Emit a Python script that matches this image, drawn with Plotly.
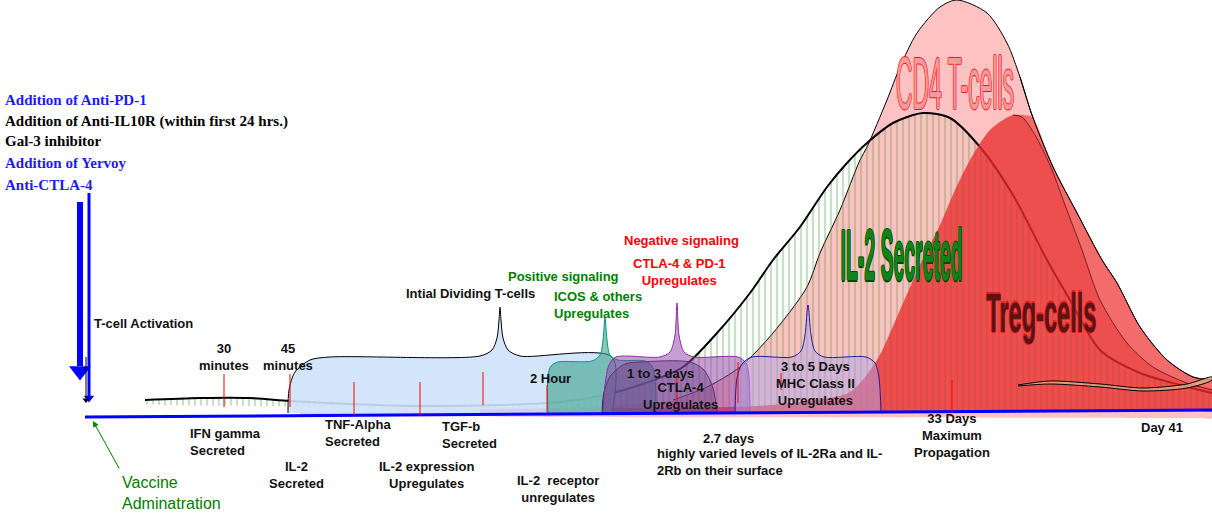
import plotly.graph_objects as go

# --- curves (x, y in picture pixels, y grows downward) ---
cd4_x = [300, 400, 500, 600, 673, 707, 740, 773, 807, 820, 840, 860, 867, 887, 900, 917, 940, 957,
         987, 1007, 1020, 1032, 1053, 1077, 1102, 1117, 1140, 1167, 1193, 1212]
cd4_y = [412, 412, 410, 406, 400, 387, 367, 333, 287, 253, 210, 160, 147, 100, 67, 33, 7, 0,
         13, 43, 77, 115, 167, 213, 260, 283, 327, 360, 377, 380]

il2_x = [145, 200, 250, 290, 350, 420, 500, 560, 600, 640, 683, 717, 750, 773, 800, 827, 847, 867,
         893, 923, 950, 980, 1013, 1047, 1070, 1100, 1140, 1180, 1212]
il2_y = [400, 398, 398, 401, 404, 406, 405, 402, 396, 385, 367, 333, 293, 260, 227, 187, 163, 143,
         123, 113, 118, 147, 195, 260, 300, 350, 373, 385, 393]

treg_x = [480, 560, 650, 757, 807, 850, 877, 900, 920, 940, 955, 970, 990, 1013, 1022, 1035, 1050,
          1065, 1082, 1100, 1127, 1153, 1187, 1212]
treg_y = [409, 408, 408, 406, 401, 392, 360, 310, 265, 225, 190, 160, 130, 115, 117, 135, 165,
          205, 250, 300, 343, 367, 383, 390]

band_x = [1013, 1024, 1032, 1053, 1077, 1102, 1117, 1140, 1167, 1193, 1212,
          1212, 1187, 1153, 1127, 1100, 1082, 1065, 1050, 1035, 1022]
band_y = [115, 115, 117, 167, 213, 260, 283, 327, 360, 377, 380,
          390, 383, 367, 343, 300, 250, 205, 165, 135, 117]

wisp_x = [1018, 1050, 1100, 1143, 1187, 1212, 1212, 1187, 1143, 1100, 1050, 1018]
wisp_y = [385, 381, 384, 388, 384, 377, 380, 388, 391, 387, 384, 386]

# --- phase brackets ---
blue_box_x = [288, 289, 295, 310, 330, 480, 492, 497, 499, 500, 501, 503, 508, 520, 612, 612]
blue_box_y = [413, 390, 372, 360, 357, 356, 350, 338, 320, 307, 320, 338, 350, 356, 357, 413]
teal_x = [548, 548, 551, 558, 592, 600, 603, 605, 607, 610, 618, 645, 652, 655, 656]
teal_y = [413, 375, 366, 362, 361, 355, 340, 317, 340, 355, 360, 361, 366, 378, 413]
grey_x = [602, 604, 611, 625, 640, 690, 704, 713, 717]
grey_y = [413, 392, 375, 364, 362, 362, 370, 388, 413]
purple_x = [603, 605, 609, 616, 660, 670, 675, 677, 679, 684, 694, 738, 746, 749, 750]
purple_y = [413, 385, 365, 357, 357, 352, 335, 303, 335, 352, 357, 357, 363, 378, 413]
lav_x = [735, 737, 742, 752, 792, 801, 805, 808, 811, 815, 824, 866, 875, 879, 881]
lav_y = [413, 378, 364, 357, 357, 351, 335, 305, 335, 351, 357, 357, 363, 378, 413]

# --- timeline ---
timeline_x = [85, 1212]
timeline_y = [417, 410]
tick_x = [224, 290, 354, 420, 483, 547, 677, 738, 781, 952]
tick_top = [374, 374, 382, 382, 372, 385, 372, 362, 373, 380]
tick_bot = [407, 407, 415, 415, 405, 412, 405, 403, 390, 413]

# --- labels ---
drug_text = ["Addition of Anti-PD-1", "Addition of Anti-IL10R (within first 24 hrs.)",
             "Gal-3 inhibitor", "Addition of Yervoy", "Anti-CTLA-4"]
drug_y = [100, 121, 141, 163, 185]
drug_color = ["#1c1cf0", "black", "black", "#1c1cf0", "#1c1cf0"]

event_text = ["30<br>minutes", "45<br>minutes", "IL-2<br>Secreted", "IL-2 expression<br>Upregulates",
              "IL-2  receptor<br>unregulates", "2.7 days", "33 Days<br>Maximum<br>Propagation",
              "Day 41", "Intial Dividing T-cells", "2 Hour", "1 to 3 days", "CTLA-4<br>Upregulates",
              "3 to 5 Days<br>MHC Class II<br>Upregulates"]
event_x = [224, 288, 296, 426, 558, 728, 952, 1162, 470, 550, 660, 680, 815]
event_y = [357, 357, 475, 475, 489, 438, 435, 427, 293, 378, 373, 396, 383]

left_text = ["IFN gamma<br>Secreted", "TNF-Alpha<br>Secreted", "TGF-b<br>Secreted",
             "highly varied levels of IL-2Ra and IL-<br>2Rb on their surface", "T-cell Activation"]
left_x = [188, 323, 440, 655, 92]
left_y = [442, 433, 435, 462, 323]

signal_text = ["Positive signaling", "ICOS & others<br>Upregulates", "Negative signaling",
               "CTLA-4 & PD-1<br>Upregulates"]
signal_x = [563, 552, 681, 679]
signal_y = [276, 305, 240, 272]
signal_color = ["#008000", "#008000", "#ff0000", "#ff0000"]

fig = go.Figure()


def area(xs, ys, fill, line_color=None, width=1):
    fig.add_trace(go.Scatter(
        x=xs, y=ys, mode="lines", fill="toself", fillcolor=fill,
        line=dict(color=line_color or "rgba(0,0,0,0)", width=width if line_color else 0,
                  shape="spline", smoothing=0.8),
        hoverinfo="skip"))


def curve(xs, ys, color, width):
    fig.add_trace(go.Scatter(x=xs, y=ys, mode="lines",
                             line=dict(color=color, width=width, shape="spline", smoothing=0.8),
                             hoverinfo="skip"))


# CD4 background
area(cd4_x + [1212, 1200, 310, 300], cd4_y + [418, 418, 415, 414], "#ffc2c2")
curve(cd4_x[4:], cd4_y[4:], "black", 1)

# IL-2 hatched area
fig.add_trace(go.Scatter(
    x=il2_x + [1212, 1200, 160, 145], y=il2_y + [411, 411, 405, 404], mode="lines", fill="toself",
    fillcolor="rgba(0,0,0,0)",
    fillpattern=dict(shape="|", size=6, solidity=0.38, fgcolor="rgba(70,150,60,0.6)",
                     bgcolor="rgba(0,0,0,0)"),
    line=dict(width=0, shape="spline", smoothing=0.8), hoverinfo="skip"))
curve(il2_x, il2_y, "black", 2)

# Treg (its bottom follows the tilted timeline)
area(treg_x + [1212, 1200, 500, 480], treg_y + [411, 411, 414, 413], "rgba(232,45,45,0.78)")
area(band_x, band_y, "rgba(240,85,85,0.8)")
curve(treg_x[13:], treg_y[13:], "rgba(60,0,0,0.7)", 1)
curve(cd4_x[20:], cd4_y[20:], "black", 1)
area(wisp_x, wisp_y, "rgba(225,170,140,0.8)", "black", 1)

# brackets
area(blue_box_x, blue_box_y, "rgba(205,226,250,0.9)", "black", 1)
area(teal_x, teal_y, "rgba(60,160,140,0.6)", "#00968c", 1)
area(grey_x, grey_y, "rgba(60,70,100,0.45)", "#282838", 1)
area(purple_x, purple_y, "rgba(145,60,170,0.5)", "#8c2ca0", 1)
area(lav_x, lav_y, "rgba(175,165,235,0.5)", "#1c1ca0", 1)

# timeline and event ticks
fig.add_trace(go.Scatter(x=timeline_x, y=timeline_y, mode="lines",
                         line=dict(color="#0000ff", width=3), hoverinfo="skip"))
for tx, t0, t1 in zip(tick_x, tick_top, tick_bot):
    fig.add_trace(go.Scatter(x=[tx, tx], y=[t0, t1], mode="lines",
                             line=dict(color="#ff0000", width=1), hoverinfo="skip"))

# drug arrows
fig.add_trace(go.Scatter(x=[80, 80], y=[202, 366], mode="lines",
                         line=dict(color="#0000ff", width=6), hoverinfo="skip"))
fig.add_trace(go.Scatter(x=[80], y=[371], mode="markers",
                         marker=dict(symbol="triangle-down", size=19, color="#0000ff"), hoverinfo="skip"))
fig.add_trace(go.Scatter(x=[89, 89], y=[193, 396], mode="lines",
                         line=dict(color="#0000ff", width=3), hoverinfo="skip"))
fig.add_trace(go.Scatter(x=[89], y=[398], mode="markers",
                         marker=dict(symbol="triangle-down", size=9, color="#0000ff"), hoverinfo="skip"))
fig.add_trace(go.Scatter(x=[86, 86], y=[357, 398], mode="lines",
                         line=dict(color="black", width=1), hoverinfo="skip"))
fig.add_trace(go.Scatter(x=[86], y=[400], mode="markers",
                         marker=dict(symbol="triangle-down", size=6, color="black"), hoverinfo="skip"))

sans = "Liberation Sans, Arial, sans-serif"

for t, yy, c in zip(drug_text, drug_y, drug_color):
    fig.add_annotation(x=3, y=yy, text=t, showarrow=False, xanchor="left", yanchor="middle",
                       font=dict(family="Liberation Serif, Times New Roman, serif", size=15,
                                 color=c, weight="bold"))

for t, xx, yy in zip(event_text, event_x, event_y):
    fig.add_annotation(x=xx, y=yy, text=t, showarrow=False, xanchor="center", yanchor="middle",
                       align="center", font=dict(family=sans, size=13, color="#111", weight="bold"))

for t, xx, yy in zip(left_text, left_x, left_y):
    fig.add_annotation(x=xx, y=yy, text=t, showarrow=False, xanchor="left", yanchor="middle",
                       align="left", font=dict(family=sans, size=13, color="#111", weight="bold"))

for t, xx, yy, c in zip(signal_text, signal_x, signal_y, signal_color):
    anchor = "left" if t.startswith("ICOS") else "center"
    fig.add_annotation(x=xx, y=yy, text=t, showarrow=False, xanchor=anchor, yanchor="middle",
                       align=anchor, font=dict(family=sans, size=13, color=c, weight="bold"))

# vaccine
fig.add_annotation(x=120, y=493, text="Vaccine<br>Adminatration", showarrow=False,
                   xanchor="left", yanchor="middle", align="left",
                   font=dict(family=sans, size=16, color="#008000"))
fig.add_annotation(x=93, y=421, ax=120, ay=470, axref="x", ayref="y", text="",
                   showarrow=True, arrowhead=2, arrowsize=1.2, arrowwidth=1, arrowcolor="#008000")


# big labels (outlined, later squeezed into the tall narrow look)
def outline(c):
    return f"1px 0 0 {c}, -1px 0 0 {c}, 0 1px 0 {c}, 0 -1px 0 {c}"


fig.add_annotation(x=955, y=83, text="CD4 T-cells", showarrow=False,
                   font=dict(family=sans, size=40, color="#f59a9a", shadow=outline("#ff1010")))
fig.add_annotation(x=901, y=255, text="IL-2 Secreted", showarrow=False,
                   font=dict(family=sans, size=40, color="#12821a", weight="bold",
                             shadow=outline("#004a00")))
fig.add_annotation(x=1041, y=312, text="Treg-cells", showarrow=False,
                   font=dict(family=sans, size=40, color="#5a1414", weight="bold",
                             shadow=outline("#e02020")))

fig.update_layout(
    width=1212, height=513, margin=dict(l=0, r=0, t=0, b=0),
    paper_bgcolor="white", plot_bgcolor="white", showlegend=False,
    xaxis=dict(range=[0, 1212], visible=False, fixedrange=True),
    yaxis=dict(range=[513, 0], visible=False, fixedrange=True),
)

squeeze = """
document.body.style.margin = '0';
var sc = {'CD4 T-cells': [0.574, 1.85], 'IL-2 Secreted': [0.486, 1.82], 'Treg-cells': [0.59, 1.4]};
document.querySelectorAll('text.annotation-text').forEach(function (t) {
  var s = sc[t.textContent];
  if (!s) return;
  var b = t.getBBox(), cx = b.x + b.width / 2, cy = b.y + b.height / 2;
  t.setAttribute('transform', 'translate(' + cx + ',' + cy + ') scale(' + s[0] + ',' + s[1] +
                 ') translate(' + (-cx) + ',' + (-cy) + ')');
});
"""

fig.write_html("out.html", post_script=squeeze, config={"displayModeBar": False})
